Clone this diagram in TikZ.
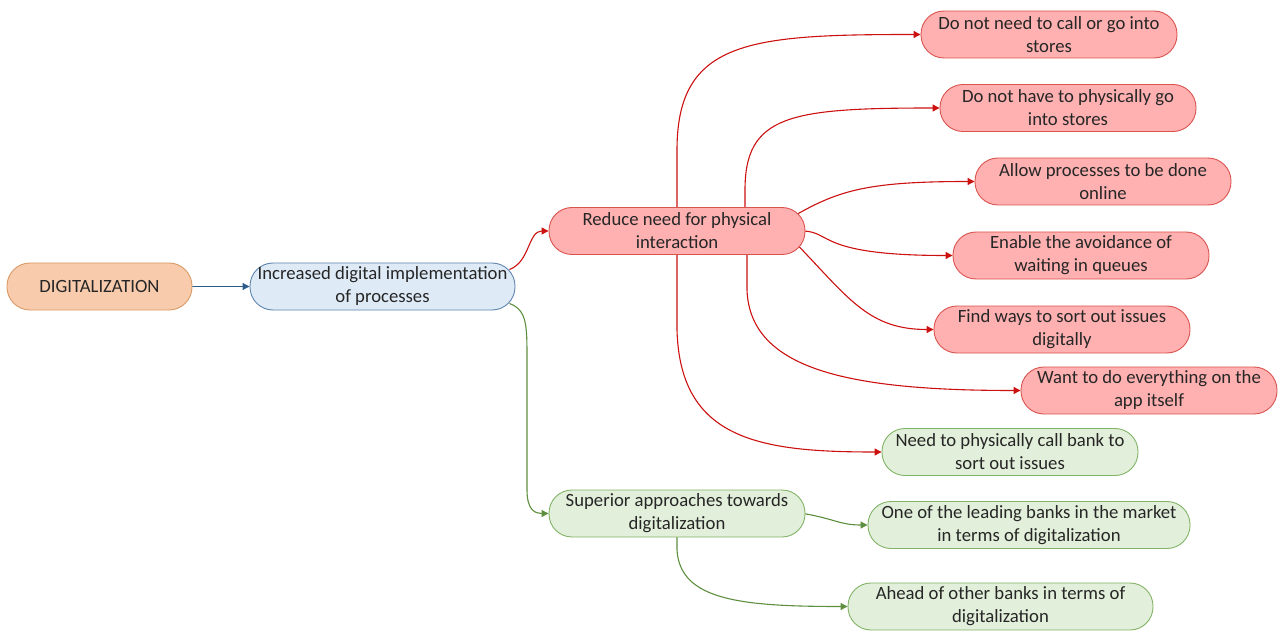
\documentclass[tikz,border=0pt]{standalone}
\usepackage{fontspec}
\setmainfont{Carlito}
\usetikzlibrary{arrows.meta,calc}
\definecolor{orfill}{HTML}{F8CBAD}
\definecolor{ordraw}{HTML}{D99A66}
\definecolor{blfill}{HTML}{DEEBF7}
\definecolor{bldraw}{HTML}{5E84B0}
\definecolor{rdfill}{HTML}{FFB0B0}
\definecolor{rddraw}{HTML}{D9534F}
\definecolor{gnfill}{HTML}{E2EFDA}
\definecolor{gndraw}{HTML}{82B366}
\definecolor{rdedge}{HTML}{CC1111}
\definecolor{gnedge}{HTML}{5E8F3E}
\definecolor{bledge}{HTML}{2E5C8A}
\pgfdeclarelayer{bg}
\pgfsetlayers{bg,main}
\tikzset{
  box/.style={draw, line width=0.9pt, rounded corners=23pt, minimum height=47pt, inner sep=0pt, align=center,
    font=\fontsize{18.7}{23}\selectfont, text=black!85},
  orbox/.style={box, fill=orfill, draw=ordraw},
  blbox/.style={box, fill=blfill, draw=bldraw},
  rdbox/.style={box, fill=rdfill, draw=rddraw},
  gnbox/.style={box, fill=gnfill, draw=gndraw},
  tip/.style={-{Triangle[width=7pt,length=7pt]}},
  rdline/.style={tip, draw=rdedge, line width=1.1pt},
  gnline/.style={tip, draw=gnedge, line width=1.1pt},
  blline/.style={tip, draw=bledge, line width=1.1pt},
}
\begin{document}
\begin{tikzpicture}[x=1pt,y=-1pt]
\useasboundingbox (0,0) rectangle (1280,631);
\node[orbox, minimum width=185pt] (dig) at (99.5,286.5) {DIGITALIZATION};
\node[blbox, minimum width=265pt] (inc) at (382.5,286.5) {Increased digital implementation\\of processes};
\node[rdbox, minimum width=256pt] (red) at (677,231) {Reduce need for physical\\interaction};
\node[rdbox, minimum width=256pt] (a1) at (1049,34.5) {Do not need to call or go into\\stores};
\node[rdbox, minimum width=256pt] (a2) at (1068,108) {Do not have to physically go\\into stores};
\node[rdbox, minimum width=256pt] (a3) at (1103,181.5) {Allow processes to be done\\online};
\node[rdbox, minimum width=256pt] (a4) at (1081,255.5) {Enable the avoidance of\\waiting in queues};
\node[rdbox, minimum width=256pt] (a5) at (1062,329.5) {Find ways to sort out issues\\digitally};
\node[rdbox, minimum width=256pt] (a6) at (1149,390.5) {Want to do everything on the\\app itself};
\node[gnbox, minimum width=256pt] (a7) at (1010,452) {Need to physically call bank to\\sort out issues};
\node[gnbox, minimum width=256pt] (sup) at (677,513.5) {Superior approaches towards\\digitalization};
\node[gnbox, minimum width=322pt] (b1) at (1029,525) {One of the leading banks in the market\\in terms of digitalization};
\node[gnbox, minimum width=305pt] (b2) at (1000.5,606.5) {Ahead of other banks in terms of\\digitalization};
\begin{pgfonlayer}{bg}
\draw[blline] (dig.east) -- (inc.west);
\draw[rdline] ($(inc.east)+(-6,-17)$) .. controls (530,262) and (528,231) .. (red.west);
\draw[gnline] ($(inc.east)+(-6,17)$) .. controls (527,310) and (527,325) .. (527,360) -- (527,490) .. controls (527,510) and (535,513.5) .. (sup.west);
\draw[rdline] (red.center) -- (677,150) .. controls (677,40) and (750,34.5) .. (a1.west);
\draw[rdline] ($(red.center)+(68,0)$) -- (745,190) .. controls (745,115) and (790,108) .. (a2.west);
\draw[rdline] ($(red.east)+(-8,-17)$) .. controls (840,190) and (870,181.5) .. (a3.west);
\draw[rdline] ($(red.east)+(-2,0)$) .. controls (832,232) and (818,255.5) .. (a4.west);
\draw[rdline] ($(red.east)+(-6,16)$) .. controls (850,300) and (870,329.5) .. (a5.west);
\draw[rdline] ($(red.center)+(70,0)$) -- (747,290) .. controls (750,370) and (850,390.5) .. (a6.west);
\draw[rdline] (red.center) -- (677,330) .. controls (680,440) and (760,452) .. (a7.west);
\draw[gnline] ($(sup.east)+(-2,0)$) .. controls (835,519) and (840,525) .. (b1.west);
\draw[gnline] (sup.center) -- (677,550) .. controls (680,600) and (740,606.5) .. (b2.west);
\end{pgfonlayer}
\end{tikzpicture}
\end{document}
